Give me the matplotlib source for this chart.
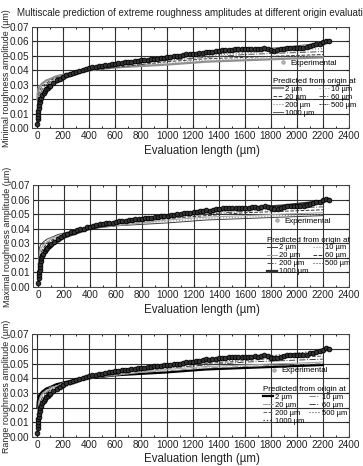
import matplotlib
matplotlib.use("Agg")
import matplotlib.pyplot as plt
import numpy as np

plt.rcParams['font.family'] = ['Liberation Sans', 'DejaVu Sans']

# ---------------- data ----------------
exp_x_early = [2, 4, 6, 8, 10, 13, 16, 20, 25, 30, 40, 50, 60, 70, 80, 90, 100]
exp_y_early = [0.003, 0.006, 0.008, 0.010, 0.012, 0.014, 0.016, 0.018, 0.020, 0.021,
               0.023, 0.0245, 0.026, 0.027, 0.028, 0.029, 0.0295]
exp_x_late = list(range(125, 2251, 25))
exp_y_late = [0.031, 0.033, 0.034, 0.0355, 0.0365, 0.0375, 0.038, 0.039, 0.0395, 0.040,
              0.041, 0.0415, 0.042, 0.0425, 0.043, 0.0432, 0.0437, 0.044, 0.0442, 0.0447,
              0.045, 0.0453, 0.0455, 0.0458, 0.046, 0.0465, 0.0467, 0.047, 0.0472, 0.0475,
              0.0477, 0.048, 0.048, 0.0485, 0.0487, 0.049, 0.0493, 0.0497, 0.050, 0.050,
              0.0505, 0.051, 0.051, 0.0512, 0.0515, 0.052, 0.0522, 0.053, 0.0525, 0.053,
              0.0532, 0.0535, 0.054, 0.054, 0.0542, 0.0543, 0.0545, 0.0545, 0.0545, 0.0545,
              0.0545, 0.0547, 0.055, 0.0545, 0.055, 0.0555, 0.055, 0.054, 0.0535, 0.0538,
              0.0545, 0.055, 0.0555, 0.0555, 0.0555, 0.0555, 0.0555, 0.0558, 0.056, 0.057,
              0.0575, 0.058, 0.0585, 0.0595, 0.0603, 0.060]
exp_x = exp_x_early + exp_x_late
exp_y = exp_y_early + exp_y_late

pred_x = [2, 5, 10, 20, 40, 70, 100, 150, 200, 300, 400, 600, 800, 1000, 1300, 1600, 1900, 2200]
pred_2 = [0.020, 0.024, 0.027, 0.029, 0.031, 0.033, 0.034, 0.036, 0.037, 0.039, 0.040, 0.042, 0.043, 0.044, 0.046, 0.047, 0.048, 0.049]
pred_10 = [0.015, 0.020, 0.024, 0.027, 0.030, 0.032, 0.034, 0.035, 0.037, 0.039, 0.040, 0.042, 0.044, 0.045, 0.047, 0.048, 0.049, 0.050]
pred_20 = [0.012, 0.018, 0.022, 0.026, 0.029, 0.031, 0.033, 0.035, 0.036, 0.038, 0.040, 0.042, 0.044, 0.046, 0.048, 0.049, 0.050, 0.051]
pred_60 = [0.010, 0.015, 0.019, 0.023, 0.027, 0.030, 0.032, 0.034, 0.036, 0.038, 0.040, 0.043, 0.045, 0.047, 0.049, 0.051, 0.052, 0.053]
pred_200 = [0.007, 0.012, 0.016, 0.020, 0.024, 0.028, 0.030, 0.033, 0.035, 0.038, 0.040, 0.043, 0.046, 0.048, 0.050, 0.052, 0.054, 0.055]
pred_500 = [0.006, 0.010, 0.014, 0.018, 0.022, 0.026, 0.029, 0.032, 0.034, 0.037, 0.040, 0.043, 0.046, 0.048, 0.051, 0.053, 0.055, 0.057]
pred_1000 = [0.005, 0.009, 0.012, 0.016, 0.021, 0.025, 0.028, 0.031, 0.034, 0.037, 0.040, 0.044, 0.046, 0.049, 0.052, 0.054, 0.056, 0.059]

pred_labels = ["2 µm", "10 µm", "20 µm", "60 µm", "200 µm", "500 µm", "1000 µm"]
pred_series = [pred_2, pred_10, pred_20, pred_60, pred_200, pred_500, pred_1000]

ylabels = ["Minimal roughness amplitude (µm)",
           "Maximal roughness amplitude (µm)",
           "Range roughness amplitude (µm)"]
title = "Multiscale prediction of extreme roughness amplitudes at different origin evaluation"
xticks = list(range(0, 2401, 200))
yticks = [0.00, 0.01, 0.02, 0.03, 0.04, 0.05, 0.06, 0.07]

# styles per panel: (color, linestyle, linewidth) for each predicted curve
styles = [
    [("#909090", "-", 1.6), ("#a0a0a0", ":", 0.8), ("#404040", "--", 0.7), ("#505050", "-.", 0.7),
     ("#808080", ":", 0.8), ("#303030", (0, (2, 1, 1, 1)), 0.7), ("#606060", "-", 0.7)],
    [("#404040", "-", 0.7), ("#909090", ":", 0.8), ("#a0a0a0", "-", 0.7), ("#303030", "--", 0.7),
     ("#505050", "-.", 0.7), ("#404040", ":", 0.8), ("#303030", "-", 1.6)],
    [("#000000", "-", 1.6), ("#808080", "-.", 0.7), ("#a0a0a0", "-", 0.7), ("#404040", "-.", 0.7),
     ("#606060", "--", 0.7), ("#505050", ":", 0.8), ("#303030", ":", 0.9)],
]

# ---------------- figure ----------------
fig = plt.figure(figsize=(3.63, 4.66), dpi=100)
rects = [
    [0.088, 0.725, 0.873, 0.217],
    [0.091, 0.384, 0.870, 0.219],
    [0.088, 0.062, 0.873, 0.221],
]
leg_x = [0.745, 0.725, 0.715]
xlabel_y = [-0.17, -0.17, -0.155]

fig.text(0.048, 0.972, title, fontsize=7.0, ha="left", va="center", color="#222222")

for i, rect in enumerate(rects):
    ax = fig.add_axes(rect)
    ax.set_xlim(-40, 2400)
    ax.set_ylim(0, 0.07)
    ax.set_xticks(xticks)
    ax.set_yticks(yticks)
    ax.set_yticklabels([f"{v:.2f}" for v in yticks])
    ax.set_xticks(list(range(100, 2400, 200)), minor=True)
    ax.grid(True, which="major", color="#333333", linewidth=0.8)
    ax.tick_params(axis="both", which="major", labelsize=7.2, length=2, direction="in",
                   top=True, right=True, pad=2, colors="#222222")
    ax.tick_params(axis="both", which="minor", length=1.2, direction="in", top=True)
    for s in ax.spines.values():
        s.set_color("#444444")
        s.set_linewidth(0.7)

    lines = []
    for ys, lab, (c, ls, lw) in zip(pred_series, pred_labels, styles[i]):
        ln, = ax.plot(pred_x, ys, color=c, linestyle=ls, linewidth=lw, label=lab, zorder=3)
        lines.append(ln)
    pts, = ax.plot(exp_x, exp_y, linestyle="none", marker="o", markersize=3.4,
                   markerfacecolor="#333333", markeredgecolor="#000000",
                   markeredgewidth=0.6, label="Experimental", zorder=4)
    leg_pt, = ax.plot([], [], linestyle="none", marker="o", markersize=2.5,
                      markerfacecolor="#bbbbbb", markeredgecolor="#888888",
                      markeredgewidth=0.5, label="Experimental")

    leg1 = ax.legend(handles=[leg_pt], loc="upper left", bbox_to_anchor=(leg_x[i] + 0.02, 0.73),
                     frameon=False, fontsize=5.8, handlelength=1.0, handletextpad=0.4,
                     borderpad=0.1)
    ax.add_artist(leg1)
    order = [0, 2, 4, 6, 1, 3, 5]
    leg2 = ax.legend(handles=[lines[k] for k in order], loc="upper left",
                     bbox_to_anchor=(leg_x[i], 0.54), ncol=2, frameon=False,
                     fontsize=5.5, title="Predicted from origin at", title_fontsize=5.8,
                     handlelength=1.3, handletextpad=0.3, columnspacing=0.6,
                     labelspacing=0.08, borderpad=0.1)
    leg2._legend_box.align = "left"

    ax.set_xlabel("Evaluation length (µm)", fontsize=8.3, color="#222222")
    ax.xaxis.set_label_coords(0.535, xlabel_y[i])
    ax.set_ylabel(ylabels[i], fontsize=6.4, color="#222222")
    ax.yaxis.set_label_coords(-0.066, 0.49)

fig.savefig("out.png", dpi=100)
